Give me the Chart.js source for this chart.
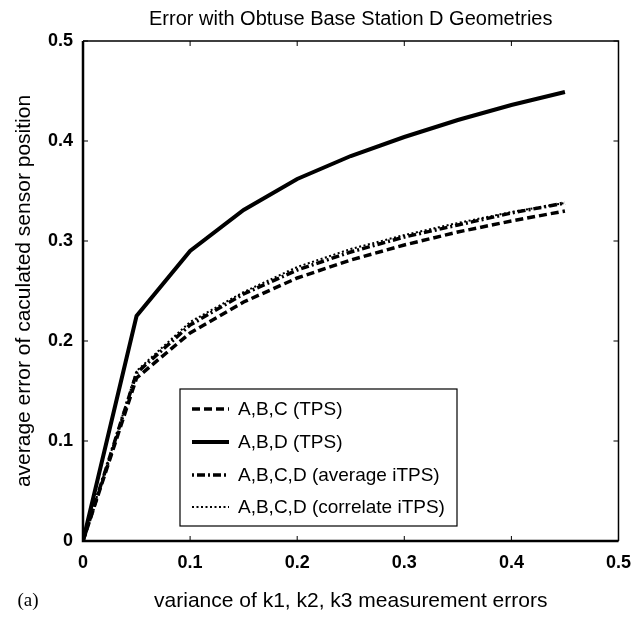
<!DOCTYPE html>
<html>
<head>
<meta charset="utf-8">
<script src="https://cdn.jsdelivr.net/npm/chart.js@4/dist/chart.umd.min.js"></script>
<style>
  html, body { margin: 0; padding: 0; background: #fff; }
  #wrap { width: 642px; height: 620px; }
</style>
</head>
<body>
<div id="wrap"><canvas id="chart" width="642" height="620"></canvas></div>
<script>
const FONT = '"Liberation Sans", Arial, Helvetica, sans-serif';

const chartTitle = "Error with Obtuse Base Station D Geometries";
const xTitle = "variance of k1, k2, k3 measurement errors";
const yTitle = "average error of caculated sensor position";
const panelLabel = "(a)";

const xValues = [0, 0.05, 0.1, 0.15, 0.2, 0.25, 0.3, 0.35, 0.4, 0.45];
const abcTps = [0, 0.163, 0.208, 0.239, 0.263, 0.281, 0.296, 0.309, 0.320, 0.330];
const abdTps = [0, 0.225, 0.290, 0.331, 0.362, 0.385, 0.404, 0.421, 0.436, 0.449];
const avgItps = [0, 0.168, 0.216, 0.247, 0.271, 0.289, 0.304, 0.316, 0.328, 0.338];
const corItps = [0, 0.170, 0.219, 0.249, 0.274, 0.292, 0.306, 0.318, 0.329, 0.338];

const seriesLabels = [
  "A,B,C (TPS)",
  "A,B,D (TPS)",
  "A,B,C,D (average iTPS)",
  "A,B,C,D (correlate iTPS)",
];

const xTicks = [0, 0.1, 0.2, 0.3, 0.4, 0.5];
const yTicks = [0, 0.1, 0.2, 0.3, 0.4, 0.5];

function toPoints(ys) {
  return ys.map((y, i) => ({ x: xValues[i], y }));
}

function makeDataset(label, ys, width, dash) {
  return {
    label,
    data: toPoints(ys),
    borderColor: "#000",
    backgroundColor: "#000",
    borderWidth: width,
    borderDash: dash,
    pointRadius: 0,
    tension: 0,
    fill: false,
  };
}

// title, panel label, frame, inward ticks, legend box
const decorPlugin = {
  id: "decor",
  afterDraw(chart) {
    const { ctx, chartArea: a, scales } = chart;
    ctx.save();
    ctx.fillStyle = "#000";
    ctx.textAlign = "center";
    ctx.textBaseline = "middle";
    ctx.font = `20px ${FONT}`;
    ctx.fillText(chartTitle, (a.left + a.right) / 2, 19);

    ctx.font = `19px "Liberation Serif", "Times New Roman", serif`;
    ctx.fillText(panelLabel, 28, 601);

    // frame
    ctx.strokeStyle = "#000";
    ctx.setLineDash([]);
    ctx.lineWidth = 1.5;
    ctx.beginPath();
    ctx.moveTo(a.left, a.top);
    ctx.lineTo(a.right, a.top);
    ctx.lineTo(a.right, a.bottom);
    ctx.stroke();
    ctx.lineWidth = 2.5;
    ctx.beginPath();
    ctx.moveTo(a.left, a.top);
    ctx.lineTo(a.left, a.bottom);
    ctx.lineTo(a.right, a.bottom);
    ctx.stroke();

    // inward tick marks
    ctx.lineWidth = 1;
    ctx.beginPath();
    xTicks.forEach((v) => {
      const px = scales.x.getPixelForValue(v);
      ctx.moveTo(px, a.bottom);
      ctx.lineTo(px, a.bottom - 5);
      ctx.moveTo(px, a.top);
      ctx.lineTo(px, a.top + 5);
    });
    yTicks.forEach((v) => {
      const py = scales.y.getPixelForValue(v);
      ctx.moveTo(a.left, py);
      ctx.lineTo(a.left + 5, py);
      ctx.moveTo(a.right, py);
      ctx.lineTo(a.right - 5, py);
    });
    ctx.stroke();

    // legend
    const box = { x: 180, y: 389, w: 277, h: 137 };
    ctx.fillStyle = "#fff";
    ctx.fillRect(box.x, box.y, box.w, box.h);
    ctx.lineWidth = 1.2;
    ctx.strokeRect(box.x, box.y, box.w, box.h);
    const rowY = [409, 442, 475, 507];
    ctx.font = `19px ${FONT}`;
    ctx.textAlign = "left";
    chart.data.datasets.forEach((ds, i) => {
      ctx.lineWidth = ds.borderWidth;
      ctx.setLineDash(ds.borderDash || []);
      ctx.beginPath();
      ctx.moveTo(192, rowY[i]);
      ctx.lineTo(229, rowY[i]);
      ctx.stroke();
      ctx.setLineDash([]);
      ctx.fillStyle = "#000";
      ctx.fillText(ds.label, 238, rowY[i] + 1);
    });
    ctx.restore();
  },
};

new Chart(document.getElementById("chart"), {
  type: "line",
  data: {
    datasets: [
      makeDataset(seriesLabels[0], abcTps, 3.5, [8, 4]),
      makeDataset(seriesLabels[1], abdTps, 4, []),
      makeDataset(seriesLabels[2], avgItps, 3.5, [2, 3, 8, 3]),
      makeDataset(seriesLabels[3], corItps, 2, [2, 2.5]),
    ],
  },
  options: {
    responsive: false,
    animation: false,
    layout: { padding: { left: 0, top: 41, right: 23, bottom: 0 } },
    plugins: {
      legend: { display: false },
      tooltip: { enabled: false },
    },
    scales: {
      x: {
        type: "linear",
        min: 0,
        max: 0.5,
        afterFit(scale) { scale.height = 79; },
        afterBuildTicks(scale) { scale.ticks = xTicks.map((v) => ({ value: v })); },
        grid: { display: false, drawTicks: false },
        border: { display: false },
        ticks: {
          color: "#000",
          padding: 11,
          maxRotation: 0,
          font: { family: FONT, size: 18, weight: "bold" },
          callback: (v) => String(Math.round(v * 10) / 10),
        },
        title: {
          display: true,
          text: xTitle,
          color: "#000",
          font: { family: FONT, size: 21 },
          padding: { top: 0, bottom: 6 },
        },
      },
      y: {
        type: "linear",
        min: 0,
        max: 0.5,
        afterFit(scale) { scale.width = 83; },
        afterBuildTicks(scale) { scale.ticks = yTicks.map((v) => ({ value: v })); },
        grid: { display: false, drawTicks: false },
        border: { display: false },
        ticks: {
          color: "#000",
          padding: 10,
          font: { family: FONT, size: 18, weight: "bold" },
          callback: (v) => String(Math.round(v * 10) / 10),
        },
        title: {
          display: true,
          text: yTitle,
          color: "#000",
          font: { family: FONT, size: 21 },
          padding: { top: 12, bottom: 0 },
        },
      },
    },
  },
  plugins: [decorPlugin],
});
</script>
</body>
</html>
